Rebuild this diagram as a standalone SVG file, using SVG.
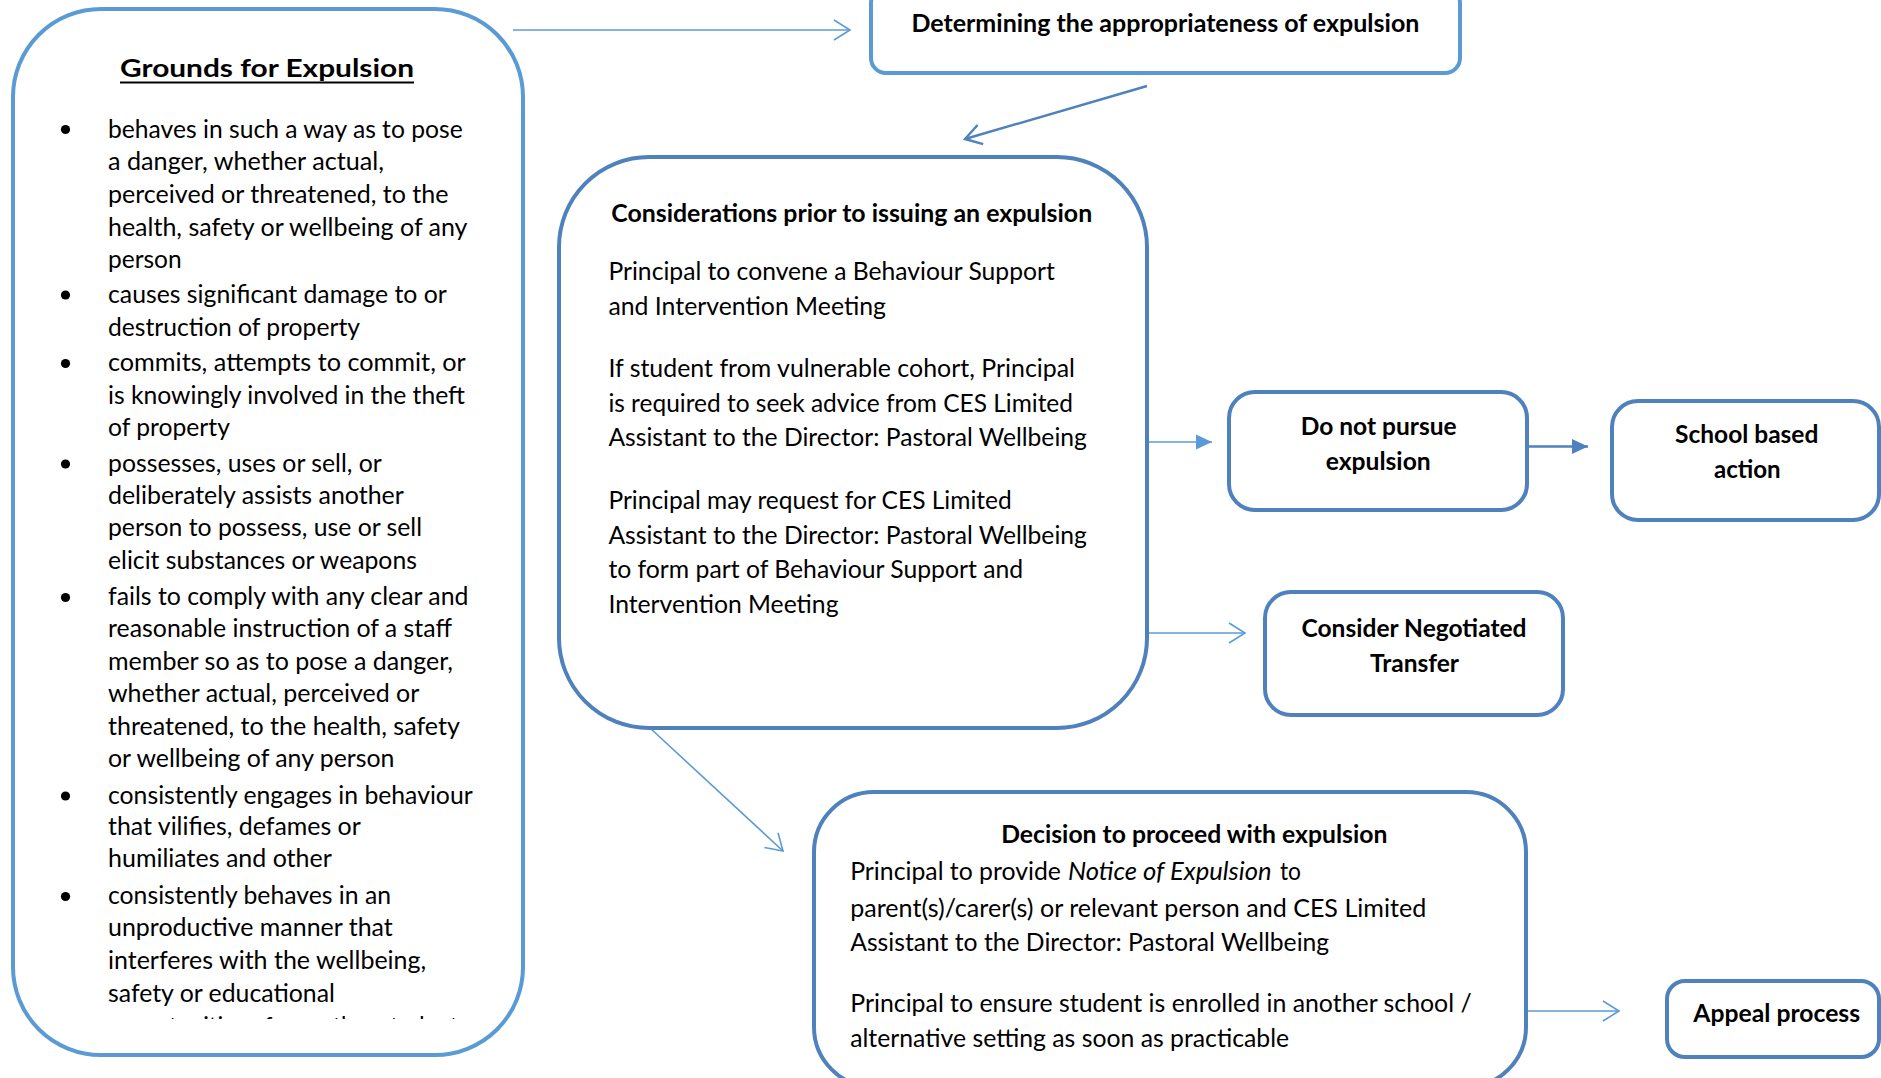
<svg xmlns="http://www.w3.org/2000/svg" width="1881" height="1078" viewBox="0 0 1881 1078">
<style>
.t{font-family:Lato,"Liberation Sans",sans-serif;font-size:25.3px;fill:#000}
.b{font-weight:bold}
.c{text-anchor:middle}
.i{font-style:italic}
.box1{fill:#fff;stroke:#5B9BD5;stroke-width:4}
.box2{fill:#fff;stroke:#4F81BD;stroke-width:4}
.ln1{fill:none;stroke:#5B9BD5;stroke-width:1.6}
.ln2{fill:none;stroke:#4F81BD;stroke-width:2.4}
</style>
<defs>
<marker id="vL" markerUnits="userSpaceOnUse" viewBox="0 0 20 24" refX="18" refY="12" markerWidth="20" markerHeight="24" orient="auto">
<path d="M2,2 L18,12 L2,22" fill="none" stroke="#5B9BD5" stroke-width="1.6"/>
</marker>
<marker id="vD" markerUnits="userSpaceOnUse" viewBox="0 0 20 24" refX="18" refY="12" markerWidth="20" markerHeight="24" orient="auto">
<path d="M2,2 L18,12 L2,22" fill="none" stroke="#4F81BD" stroke-width="2.4"/>
</marker>
<marker id="fL" markerUnits="userSpaceOnUse" viewBox="0 0 16 16" refX="16" refY="8" markerWidth="16" markerHeight="16" orient="auto">
<path d="M0,0.5 L16,8 L0,15.5 Z" fill="#5B9BD5"/>
</marker>
<marker id="fD" markerUnits="userSpaceOnUse" viewBox="0 0 16 16" refX="16" refY="8" markerWidth="16" markerHeight="16" orient="auto">
<path d="M0,0.5 L16,8 L0,15.5 Z" fill="#4F81BD"/>
</marker>
<clipPath id="clipG"><rect x="13" y="9" width="510" height="1010"/></clipPath>
</defs>

<g id="connectors">
<line class="ln1" x1="513" y1="30" x2="850" y2="30" marker-end="url(#vL)"/>
<line class="ln2" x1="1147" y1="86" x2="965" y2="139" marker-end="url(#vD)"/>
<line class="ln1" x1="1149" y1="442" x2="1212" y2="442" stroke-width="2" marker-end="url(#fL)"/>
<line class="ln2" x1="1529" y1="446.5" x2="1588" y2="446.5" marker-end="url(#fD)"/>
<line class="ln1" x1="1149" y1="633" x2="1245" y2="633" marker-end="url(#vL)"/>
<line class="ln1" x1="650" y1="728" x2="783" y2="851" marker-end="url(#vL)"/>
<line class="ln1" x1="1528" y1="1011" x2="1619" y2="1011" stroke="#5A8DC8" stroke-width="2" marker-end="url(#vL)"/>
</g>

<g id="grounds">
<rect class="box1" x="13" y="9" width="510" height="1046" rx="88" ry="88"/>
<text class="t b c" x="267" y="77" font-size="30" textLength="294" lengthAdjust="spacingAndGlyphs">Grounds for Expulsion</text>
<line x1="120" y1="82.5" x2="414" y2="82.5" stroke="#000" stroke-width="2"/>
<g fill="#000">
<circle cx="65.5" cy="129.5" r="4.6"/>
<circle cx="65.5" cy="295" r="4.6"/>
<circle cx="65.5" cy="363.5" r="4.6"/>
<circle cx="65.5" cy="464" r="4.6"/>
<circle cx="65.5" cy="597.5" r="4.6"/>
<circle cx="65.5" cy="796" r="4.6"/>
<circle cx="65.5" cy="896.5" r="4.6"/>
</g>
<g clip-path="url(#clipG)">
<text class="t" x="108" y="137.5" textLength="354.7" lengthAdjust="spacingAndGlyphs">behaves in such a way as to pose</text>
<text class="t" x="108" y="169.6" textLength="276" lengthAdjust="spacingAndGlyphs">a danger, whether actual,</text>
<text class="t" x="108" y="202.5" textLength="340.5" lengthAdjust="spacingAndGlyphs">perceived or threatened, to the</text>
<text class="t" x="108" y="235.7" textLength="359.5" lengthAdjust="spacingAndGlyphs">health, safety or wellbeing of any</text>
<text class="t" x="108" y="267.9" textLength="73.7" lengthAdjust="spacingAndGlyphs">person</text>
<text class="t" x="108" y="302.9" textLength="338.8" lengthAdjust="spacingAndGlyphs">causes significant damage to or</text>
<text class="t" x="108" y="335.7" textLength="252" lengthAdjust="spacingAndGlyphs">destruction of property</text>
<text class="t" x="108" y="371.4" textLength="357.8" lengthAdjust="spacingAndGlyphs">commits, attempts to commit, or</text>
<text class="t" x="108" y="403.6" textLength="357" lengthAdjust="spacingAndGlyphs">is knowingly involved in the theft</text>
<text class="t" x="108" y="436.4" textLength="121.9" lengthAdjust="spacingAndGlyphs">of property</text>
<text class="t" x="108" y="472.1" textLength="273.8" lengthAdjust="spacingAndGlyphs">possesses, uses or sell, or</text>
<text class="t" x="108" y="503.6" textLength="295.8" lengthAdjust="spacingAndGlyphs">deliberately assists another</text>
<text class="t" x="108" y="536.4" textLength="314" lengthAdjust="spacingAndGlyphs">person to possess, use or sell</text>
<text class="t" x="108" y="569.2" textLength="308.9" lengthAdjust="spacingAndGlyphs">elicit substances or weapons</text>
<text class="t" x="108" y="605.2" textLength="360.5" lengthAdjust="spacingAndGlyphs">fails to comply with any clear and</text>
<text class="t" x="108" y="637.1" textLength="344" lengthAdjust="spacingAndGlyphs">reasonable instruction of a staff</text>
<text class="t" x="108" y="669.7" textLength="345" lengthAdjust="spacingAndGlyphs">member so as to pose a danger,</text>
<text class="t" x="108" y="702" textLength="311.3" lengthAdjust="spacingAndGlyphs">whether actual, perceived or</text>
<text class="t" x="108" y="734.9" textLength="351.9" lengthAdjust="spacingAndGlyphs">threatened, to the health, safety</text>
<text class="t" x="108" y="767.2" textLength="286.5" lengthAdjust="spacingAndGlyphs">or wellbeing of any person</text>
<text class="t" x="108" y="803.6" textLength="364.7" lengthAdjust="spacingAndGlyphs">consistently engages in behaviour</text>
<text class="t" x="108" y="835.1" textLength="252.8" lengthAdjust="spacingAndGlyphs">that vilifies, defames or</text>
<text class="t" x="108" y="866.7" textLength="223.8" lengthAdjust="spacingAndGlyphs">humiliates and other</text>
<text class="t" x="108" y="903.8" textLength="283" lengthAdjust="spacingAndGlyphs">consistently behaves in an</text>
<text class="t" x="108" y="936.4" textLength="284.8" lengthAdjust="spacingAndGlyphs">unproductive manner that</text>
<text class="t" x="108" y="969" textLength="318.2" lengthAdjust="spacingAndGlyphs">interferes with the wellbeing,</text>
<text class="t" x="108" y="1001.6" textLength="226.9" lengthAdjust="spacingAndGlyphs">safety or educational</text>
<text class="t" x="108" y="1034.5" textLength="350" lengthAdjust="spacingAndGlyphs">opportunities of any other student</text>
</g>
</g>

<g id="determining">
<rect class="box1" x="871" y="-12" width="589" height="85" rx="15" ry="15"/>
<text class="t b" x="911.4" y="32.3" textLength="508" lengthAdjust="spacingAndGlyphs">Determining the appropriateness of expulsion</text>
</g>

<g id="considerations">
<rect class="box2" x="559" y="157" width="588" height="571" rx="90" ry="90" stroke-width="4.5"/>
<text class="t b" x="611.2" y="222.3" textLength="481" lengthAdjust="spacingAndGlyphs">Considerations prior to issuing an expulsion</text>
<text class="t" x="608.4" y="279.7" textLength="446.4" lengthAdjust="spacingAndGlyphs">Principal to convene a Behaviour Support</text>
<text class="t" x="608.4" y="315.3" textLength="277.6" lengthAdjust="spacingAndGlyphs">and Intervention Meeting</text>
<text class="t" x="608.4" y="376.5" textLength="466.6" lengthAdjust="spacingAndGlyphs">If student from vulnerable cohort, Principal</text>
<text class="t" x="608.4" y="411.7" textLength="464.6" lengthAdjust="spacingAndGlyphs">is required to seek advice from CES Limited</text>
<text class="t" x="608.4" y="446.2" textLength="478.5" lengthAdjust="spacingAndGlyphs">Assistant to the Director: Pastoral Wellbeing</text>
<text class="t" x="608.4" y="508.5" textLength="403.3" lengthAdjust="spacingAndGlyphs">Principal may request for CES Limited</text>
<text class="t" x="608.4" y="543.7" textLength="478.5" lengthAdjust="spacingAndGlyphs">Assistant to the Director: Pastoral Wellbeing</text>
<text class="t" x="608.4" y="578.2" textLength="414.8" lengthAdjust="spacingAndGlyphs">to form part of Behaviour Support and</text>
<text class="t" x="608.4" y="612.6" textLength="230.1" lengthAdjust="spacingAndGlyphs">Intervention Meeting</text>
</g>

<g id="do-not-pursue">
<rect class="box2" x="1229" y="392" width="298" height="118" rx="26" ry="26"/>
<text class="t b c" x="1378.7" y="435" textLength="156" lengthAdjust="spacingAndGlyphs">Do not pursue</text>
<text class="t b c" x="1378.2" y="470" textLength="105" lengthAdjust="spacingAndGlyphs">expulsion</text>
</g>

<g id="school-based">
<rect class="box2" x="1612" y="401" width="267" height="119" rx="26" ry="26"/>
<text class="t b c" x="1746.7" y="443.3" textLength="143.3" lengthAdjust="spacingAndGlyphs">School based</text>
<text class="t b c" x="1747.3" y="478.3" textLength="66.7" lengthAdjust="spacingAndGlyphs">action</text>
</g>

<g id="negotiated-transfer">
<rect class="box2" x="1265" y="592" width="298" height="123" rx="26" ry="26"/>
<text class="t b c" x="1414" y="636.7" textLength="225" lengthAdjust="spacingAndGlyphs">Consider Negotiated</text>
<text class="t b c" x="1414.5" y="671.7" textLength="89" lengthAdjust="spacingAndGlyphs">Transfer</text>
</g>

<g id="decision">
<rect class="box2" x="814" y="792" width="712" height="295" rx="60" ry="60"/>
<text class="t b c" x="1194.3" y="843.3" textLength="386.2" lengthAdjust="spacingAndGlyphs">Decision to proceed with expulsion</text>
<text class="t" x="850.2" y="880" textLength="210.7" lengthAdjust="spacingAndGlyphs">Principal to provide</text>
<text class="t i" x="1067.9" y="880" textLength="203.7" lengthAdjust="spacingAndGlyphs">Notice of Expulsion</text>
<text class="t" x="1280" y="880" textLength="21" lengthAdjust="spacingAndGlyphs">to</text>
<text class="t" x="850.2" y="916.7" textLength="576" lengthAdjust="spacingAndGlyphs">parent(s)/carer(s) or relevant person and CES Limited</text>
<text class="t" x="850.2" y="950.7" textLength="479" lengthAdjust="spacingAndGlyphs">Assistant to the Director: Pastoral Wellbeing</text>
<text class="t" x="850.2" y="1012.3" textLength="621.5" lengthAdjust="spacingAndGlyphs">Principal to ensure student is enrolled in another school /</text>
<text class="t" x="850.2" y="1047.3" textLength="439" lengthAdjust="spacingAndGlyphs">alternative setting as soon as practicable</text>
</g>

<g id="appeal">
<rect class="box2" x="1667" y="981" width="212" height="76" rx="18" ry="18"/>
<text class="t b c" x="1776.7" y="1021.7" textLength="166.7" lengthAdjust="spacingAndGlyphs">Appeal process</text>
</g>
</svg>
